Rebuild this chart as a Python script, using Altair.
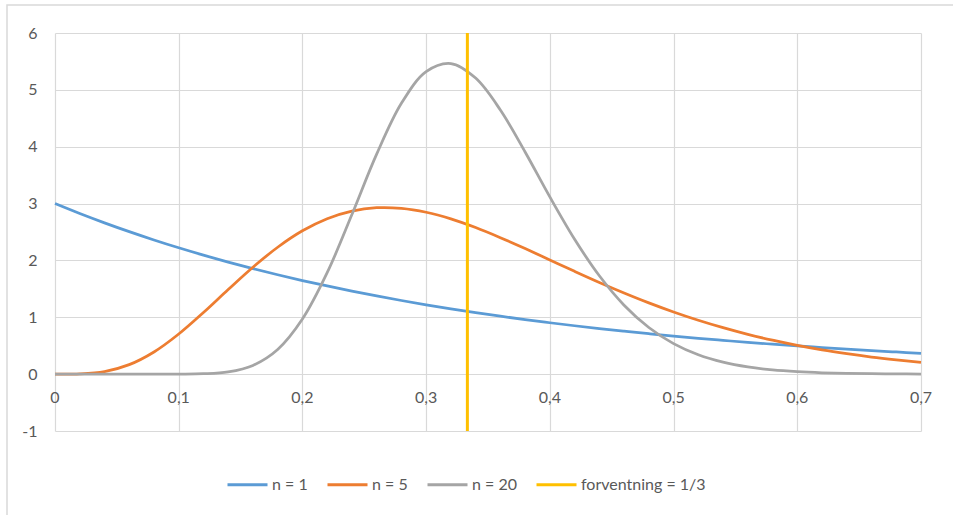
import altair as alt
import pandas as pd

# x sample positions
x_vals = [0.00, 0.02, 0.04, 0.06, 0.08, 0.10, 0.12, 0.14, 0.16, 0.18,
          0.20, 0.22, 0.24, 0.26, 0.28, 0.30, 0.32, 0.34, 0.36, 0.38,
          0.40, 0.42, 0.44, 0.46, 0.48, 0.50, 0.52, 0.54, 0.56, 0.58,
          0.60, 0.62, 0.64, 0.66, 0.68, 0.70]

n1 = [3.000, 2.825, 2.661, 2.506, 2.360, 2.222, 2.093, 1.971, 1.856, 1.748,
      1.646, 1.551, 1.460, 1.375, 1.295, 1.220, 1.149, 1.082, 1.019, 0.959,
      0.904, 0.851, 0.801, 0.755, 0.711, 0.669, 0.630, 0.594, 0.559, 0.527,
      0.496, 0.467, 0.440, 0.414, 0.390, 0.367]

n5 = [0.000, 0.004, 0.045, 0.167, 0.390, 0.706, 1.085, 1.489, 1.881, 2.232,
      2.521, 2.734, 2.868, 2.927, 2.916, 2.847, 2.731, 2.578, 2.400, 2.208,
      2.008, 1.808, 1.613, 1.428, 1.254, 1.094, 0.948, 0.817, 0.700, 0.597,
      0.506, 0.427, 0.360, 0.301, 0.252, 0.209]

n20 = [0.000, 0.000, 0.000, 0.000, 0.000, 0.001, 0.007, 0.040, 0.154, 0.434,
       0.969, 1.784, 2.807, 3.869, 4.763, 5.320, 5.463, 5.207, 4.646, 3.908,
       3.117, 2.373, 1.730, 1.213, 0.820, 0.536, 0.340, 0.210, 0.126, 0.074,
       0.043, 0.024, 0.013, 0.007, 0.004, 0.002]

series_names = ["n = 1", "n = 5", "n = 20", "forventning = 1/3"]
series_colors = ["#5B9BD5", "#ED7D31", "#A5A5A5", "#FFC000"]

expectation = 1 / 3

x_ticks = [0, 0.1, 0.2, 0.3, 0.4, 0.5, 0.6, 0.7]
x_labels = ["0", "0,1", "0,2", "0,3", "0,4", "0,5", "0,6", "0,7"]
y_ticks = [-1, 0, 1, 2, 3, 4, 5, 6]

FONT = "Lato"
FS = 16
TXT = "#595959"
GRID = "#d9d9d9"

rows = []
for name, vals in zip(series_names[:3], [n1, n5, n20]):
    for xv, yv in zip(x_vals, vals):
        rows.append({"x": xv, "y": yv, "series": name})
df = pd.DataFrame(rows)

rule_df = pd.DataFrame({"x": [expectation], "y": [-1], "y2": [6],
                        "series": [series_names[3]]})
lab_df = pd.DataFrame({"x": x_ticks, "y": [0] * len(x_ticks), "label": x_labels})

xscale = alt.Scale(domain=[0, 0.7], nice=False, zero=False)
yscale = alt.Scale(domain=[-1, 6], nice=False, zero=False)

color = alt.Color(
    "series:N",
    sort=series_names,
    scale=alt.Scale(domain=series_names, range=series_colors),
    legend=alt.Legend(
        title=None, orient="none", legendX=171, legendY=430,
        direction="horizontal", symbolType="stroke", symbolSize=1600,
        symbolStrokeWidth=3, labelFontSize=FS, labelFont=FONT,
        labelColor=TXT, labelOffset=3, columnPadding=13,
    ),
)

lines = alt.Chart(df).mark_line(strokeWidth=2.75, interpolate="catmull-rom").encode(
    x=alt.X("x:Q", scale=xscale,
            axis=alt.Axis(values=x_ticks, grid=True, labels=False, ticks=False,
                          domain=False, title=None, gridColor=GRID, gridWidth=1.2)),
    y=alt.Y("y:Q", scale=yscale,
            axis=alt.Axis(values=y_ticks, grid=True, ticks=False, domain=False,
                          title=None, labelPadding=18, labelFontSize=FS,
                          labelExpr="'' + datum.value",
                          labelFont=FONT, labelColor=TXT, gridColor=GRID,
                          gridWidth=1.2)),
    color=color,
)

rule = alt.Chart(rule_df).mark_rule(strokeWidth=3).encode(
    x=alt.X("x:Q", scale=xscale),
    y=alt.Y("y:Q", scale=yscale),
    y2="y2:Q",
    color=color,
)

xlabels = alt.Chart(lab_df).mark_text(
    dy=24, fontSize=FS, font=FONT, color=TXT, align="center", baseline="middle"
).encode(
    x=alt.X("x:Q", scale=xscale),
    y=alt.Y("y:Q", scale=yscale),
    text="label:N",
)

border = alt.Chart(pd.DataFrame({"a": [0]})).mark_rect(
    filled=False, stroke=GRID, strokeWidth=1.5
).encode(
    x=alt.value(-48), x2=alt.value(930), y=alt.value(-28), y2=alt.value(500)
)

chart = alt.layer(border, lines, rule, xlabels).properties(
    width=866, height=398,
    autosize="none",
    padding={"left": 55, "top": 33, "right": 32, "bottom": 84},
).configure_view(stroke=None)

chart.save("out.html", embed_options={"renderer": "svg", "actions": False})
